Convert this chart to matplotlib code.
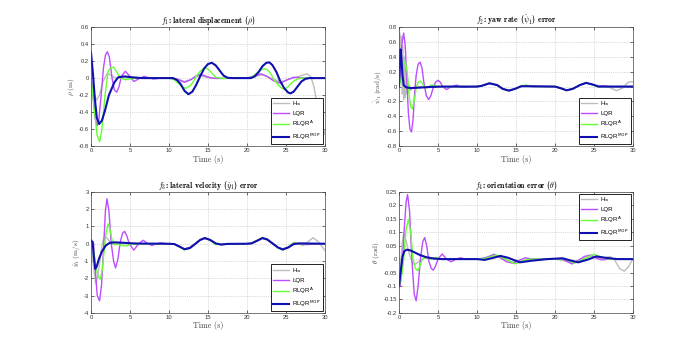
import matplotlib
matplotlib.use("Agg")
import matplotlib.pyplot as plt
from matplotlib.font_manager import FontProperties

plt.rcParams['mathtext.fontset'] = 'cm'

labels = [r'H$_\infty$', 'LQR', r'RLQR$^{\rm A}$', r'RLQR$^{\rm MOP}$']
colors = ['#bdbdbd', '#bb4dff', '#66ff33', '#1010b0']
widths = [1.0, 1.0, 1.0, 1.5]

# ---- f1: lateral displacement (rho) ----
p1_hinf_t = [0, 0.3, 0.7, 1.1, 1.5, 2.1, 2.6, 3.2, 4, 5, 10.5, 11.3, 12.0, 12.8, 13.4, 14.0, 14.8, 15.5, 20, 21.0, 22.0,
             22.8, 23.6, 24.5, 25.3, 26.2, 27.0, 27.7, 28.2, 28.6, 29.0, 29.5, 30]
p1_hinf_v = [0, -0.15, -0.26, -0.2, -0.05, 0.06, 0.03, 0.0, 0.005, 0, 0, -0.015, -0.04, -0.015, 0.015, 0.03, 0.01, 0, 0,
             0.015, 0.04, 0.01, -0.02, -0.04, -0.015, 0.005, 0.03, 0.05, 0.02, -0.1, -0.3, -0.5, -0.66]
p1_lqr_t = [0, 0.3, 0.55, 0.8, 1.0, 1.3, 1.6, 1.85, 2.1, 2.35, 2.7, 3.0, 3.3, 3.6, 3.9, 4.4, 4.9, 5.5, 6.1, 6.8, 7.4, 8,
            9, 10.5, 11.2, 12.0, 12.8, 13.4, 14.0, 14.8, 15.5, 16.2, 20, 20.8, 21.8, 22.6, 23.4, 24.3, 25.2, 26.0, 26.8, 30]
p1_lqr_v = [0, -0.25, -0.48, -0.56, -0.5, -0.2, 0.12, 0.27, 0.31, 0.25, 0.0, -0.14, -0.165, -0.1, 0.02, 0.08, 0.03,
            -0.04, -0.01, 0.02, 0.005, -0.01, 0, 0, -0.02, -0.05, -0.02, 0.02, 0.045, 0.02, 0, -0.005, 0, 0.02, 0.05,
            0.02, -0.03, -0.06, -0.02, 0.01, 0.005, 0]
p1_rlqra_t = [0, 0.4, 0.8, 1.1, 1.4, 1.8, 2.2, 2.5, 2.9, 3.3, 3.8, 4.4, 5, 6, 10, 10.7, 11.4, 11.8, 12.2, 12.6, 13.0,
              13.5, 14.0, 14.6, 15.1, 15.6, 16, 16.8, 18, 20, 20.6, 21.3, 21.8, 22.2, 22.6, 23.0, 23.5, 24.1, 24.5,
              24.8, 25.2, 25.6, 26.1, 26.8, 28, 30]
p1_rlqra_v = [0, -0.35, -0.68, -0.75, -0.6, -0.2, 0.08, 0.12, 0.13, 0.07, 0.0, -0.02, -0.01, 0, 0, -0.02, -0.08, -0.11,
              -0.12, -0.1, -0.06, 0.02, 0.08, 0.125, 0.1, 0.05, 0.01, -0.005, 0, 0, 0.01, 0.06, 0.095, 0.11, 0.1,
              0.06, -0.02, -0.09, -0.12, -0.13, -0.11, -0.07, -0.03, 0.0, 0.0, 0]
p1_mop_t = [0, 0.25, 0.5, 0.75, 1.05, 1.4, 1.8, 2.3, 3.0, 3.5, 4.3, 5.2, 6.5, 10.5, 11.0, 11.5, 12.0, 12.5, 13.0, 13.5,
            14.0, 14.5, 15.0, 15.5, 16.0, 16.5, 17.0, 17.5, 18, 20.5, 21.0, 21.5, 22.0, 22.5, 22.9, 23.3, 23.8, 24.3,
            24.8, 25.3, 25.6, 26.0, 26.5, 27.0, 27.5, 28, 30]
p1_mop_v = [0.3, 0.05, -0.25, -0.47, -0.54, -0.5, -0.38, -0.2, -0.05, 0.01, 0.02, 0.01, 0.0, 0, -0.02, -0.07, -0.15,
            -0.19, -0.16, -0.08, 0.02, 0.11, 0.165, 0.18, 0.15, 0.09, 0.03, 0.005, 0, 0, 0.02, 0.07, 0.14, 0.18, 0.185,
            0.15, 0.07, -0.04, -0.12, -0.17, -0.18, -0.16, -0.1, -0.04, -0.01, 0, 0]

# ---- f2: yaw rate error ----
p2_hinf_t = [0, 0.1, 0.2, 0.3, 0.4, 0.5, 0.6, 0.7, 0.8, 0.9, 1.0, 1.1, 1.2, 1.35, 1.5, 1.7, 2.0, 2.5, 3, 10, 10.6, 11.6,
             12.6, 13.3, 14.1, 14.9, 15.7, 16.5, 20, 20.7, 21.5, 22.3, 23.2, 24.0, 25.0, 26.0, 27.0, 27.9, 28.7, 29.2,
             29.6, 30]
p2_hinf_v = [0, 0.72, 0.1, 0.68, -0.1, 0.55, -0.18, 0.4, -0.15, 0.25, -0.1, 0.1, -0.08, 0.02, -0.05, -0.02, 0.0, 0.0,
             0, 0, 0.01, 0.04, 0.02, -0.03, -0.05, -0.03, 0.005, 0.005, 0, -0.02, -0.05, -0.03, 0.02, 0.05, 0.02, 0.01,
             -0.01, -0.055, -0.02, 0.04, 0.065, 0.065]
p2_lqr_t = [0, 0.2, 0.4, 0.6, 0.8, 1.0, 1.2, 1.4, 1.6, 1.8, 2.0, 2.2, 2.45, 2.7, 2.95, 3.2, 3.5, 3.8, 4.1, 4.4, 4.7,
            5.0, 5.3, 5.6, 6.1, 6.7, 7.4, 8.0, 8.6, 9.5, 10, 10.6, 11.6, 12.6, 13.3, 14.1, 14.9, 15.7, 16.3, 17, 20,
            20.7, 21.5, 22.3, 23.2, 24.0, 24.8, 25.6, 26.3, 27, 30]
p2_lqr_v = [0, 0.3, 0.6, 0.72, 0.55, 0.1, -0.35, -0.57, -0.61, -0.45, -0.1, 0.15, 0.3, 0.33, 0.25, 0.05, -0.12, -0.175,
            -0.12, -0.01, 0.06, 0.085, 0.06, 0.0, -0.04, 0.0, 0.02, -0.01, -0.01, 0, 0, 0.01, 0.04, 0.02, -0.03, -0.05,
            -0.03, 0.01, 0.015, 0, 0, -0.02, -0.05, -0.03, 0.02, 0.05, 0.025, 0.0, 0.01, 0, 0]
p2_rlqra_t = [0, 0.3, 0.55, 0.8, 1.05, 1.3, 1.5, 1.7, 1.95, 2.2, 2.45, 2.7, 3.0, 3.4, 3.7, 4.1, 4.5, 5, 6, 10, 10.6,
              11.6, 12.6, 13.3, 14.1, 14.9, 15.7, 16.4, 17.2, 20, 20.7, 21.5, 22.3, 23.2, 24.0, 24.8, 25.6, 26.3, 30]
p2_rlqra_v = [0, 0.12, 0.28, 0.34, 0.2, -0.12, -0.27, -0.3, -0.2, -0.02, 0.06, 0.075, 0.04, -0.02, -0.01, 0.02, 0.015,
              0, 0, 0, 0.01, 0.045, 0.02, -0.03, -0.055, -0.03, 0.01, 0.02, 0, 0, -0.02, -0.05, -0.03, 0.02, 0.05,
              0.025, -0.005, 0, 0]
p2_mop_t = [0, 0.1, 0.2, 0.3, 0.45, 0.6, 0.9, 1.5, 2.5, 4, 5.5, 10, 10.6, 11.6, 12.6, 13.3, 14.1, 14.9, 15.7, 16.5, 20,
            20.7, 21.5, 22.3, 23.2, 24.0, 24.8, 25.6, 26.5, 30]
p2_mop_v = [0.0, 0.3, 0.5, 0.4, 0.15, 0.02, -0.01, -0.02, -0.015, -0.005, 0, 0, 0.01, 0.045, 0.02, -0.03, -0.055, -0.03,
            0.005, 0.005, 0, -0.02, -0.05, -0.03, 0.02, 0.05, 0.03, 0.0, 0, 0]

# ---- f3: lateral velocity error ----
p3_hinf_t = [0, 0.3, 0.6, 0.9, 1.2, 1.5, 1.75, 2.1, 2.6, 3.2, 4, 10, 10.7, 11.3, 12.0, 12.7, 13.4, 14.0, 14.6, 15.3,
             16.0, 16.7, 20, 20.6, 21.3, 22.0, 22.6, 23.3, 24.0, 24.6, 25.3, 26.0, 26.5, 27.2, 27.8, 28.5, 29.2, 29.7, 30]
p3_hinf_v = [0, -1.2, -2.3, -1.8, -0.8, 0.1, 0.45, 0.3, 0.0, -0.05, 0, 0, -0.03, -0.16, -0.3, -0.22, 0.0, 0.2, 0.3, 0.2,
             0.0, -0.03, 0, 0.03, 0.18, 0.3, 0.22, 0.0, -0.22, -0.3, -0.18, 0.02, 0.0, -0.1, 0.1, 0.35, 0.1, -0.2, -0.38]
p3_lqr_t = [0, 0.3, 0.55, 0.8, 1.1, 1.35, 1.6, 1.85, 2.05, 2.3, 2.6, 2.9, 3.15, 3.45, 3.75, 4.05, 4.3, 4.6, 4.9, 5.5,
            6.1, 6.7, 7.3, 7.8, 8.4, 9.0, 9.6, 10.5, 11.3, 12.0, 12.7, 13.4, 14.0, 14.6, 15.3, 16.0, 16.7, 17.5, 20,
            20.6, 21.3, 22.0, 22.6, 23.3, 24.0, 24.6, 25.3, 26.0, 26.7, 27.5, 30]
p3_lqr_v = [0, 0.1, -1.5, -3.0, -3.3, -2.4, -0.4, 1.9, 2.6, 1.9, 0.0, -1.0, -1.4, -0.9, 0.1, 0.6, 0.72, 0.45, 0.0,
            -0.37, 0.0, 0.2, 0.0, -0.1, 0.0, 0.05, 0, 0, -0.15, -0.3, -0.2, 0.0, 0.22, 0.32, 0.2, 0.0, -0.05, 0.0, 0,
            0.02, 0.17, 0.32, 0.25, 0.0, -0.22, -0.33, -0.2, 0.05, 0.0, -0.05, 0]
p3_rlqra_t = [0, 0.3, 0.6, 0.9, 1.2, 1.45, 1.7, 1.95, 2.2, 2.45, 2.7, 3.0, 3.4, 3.9, 4.5, 5.0, 6, 10, 10.7, 11.3, 12.0,
              12.7, 13.4, 14.0, 14.6, 15.3, 16.0, 16.7, 20, 20.6, 21.3, 22.0, 22.6, 23.3, 24.0, 24.6, 25.3, 26.0, 26.7, 30]
p3_rlqra_v = [0, -0.3, -1.2, -1.9, -2.05, -1.5, -0.3, 0.7, 1.15, 0.8, 0.2, -0.05, 0.0, -0.1, -0.13, -0.05, 0, 0, -0.03,
              -0.18, -0.35, -0.25, 0.0, 0.22, 0.35, 0.2, -0.05, -0.03, 0, 0.03, 0.2, 0.35, 0.25, 0.0, -0.25, -0.37,
              -0.2, 0.05, 0.0, 0]
p3_mop_t = [0, 0.2, 0.4, 0.55, 0.75, 1.0, 1.4, 1.9, 2.4, 3.0, 4, 5, 6, 10, 10.7, 11.3, 12.0, 12.7, 13.4, 14.0, 14.6,
            15.3, 16.0, 16.7, 17.5, 20, 20.6, 21.3, 22.0, 22.6, 23.3, 24.0, 24.6, 25.3, 26.0, 26.7, 30]
p3_mop_v = [0.2, 0.1, -0.9, -1.45, -1.3, -0.9, -0.45, -0.1, 0.05, 0.08, 0.06, 0.03, 0.01, 0, -0.02, -0.15, -0.32,
            -0.25, 0.0, 0.22, 0.33, 0.22, 0.02, -0.05, -0.01, 0, 0.02, 0.17, 0.33, 0.25, 0.02, -0.22, -0.33, -0.22,
            -0.02, 0.02, 0]

# ---- f4: orientation error (theta) ----
p4_hinf_t = [0, 0.2, 0.4, 0.6, 0.9, 1.3, 1.7, 2.0, 2.5, 3.3, 4.5, 10, 12.3, 14.7, 17, 20, 22.3, 24.7, 26.0, 27.1, 27.7,
             28.3, 28.9, 29.4, 30]
p4_hinf_v = [-0.1, -0.03, 0.06, 0.095, 0.07, 0.02, -0.012, -0.02, -0.01, 0.005, 0, 0, 0.012, -0.012, 0, 0, -0.012,
             0.012, 0.002, 0.01, -0.005, -0.035, -0.045, -0.03, 0.0]
p4_lqr_t = [0, 0.15, 0.4, 0.65, 0.9, 1.1, 1.35, 1.65, 1.95, 2.2, 2.45, 2.75, 3.05, 3.3, 3.55, 3.85, 4.15, 4.4, 4.7, 5.0,
            5.55, 6.1, 6.7, 7.3, 7.9, 8.5, 9.5, 10.5, 11.4, 12.2, 13.0, 13.8, 14.6, 15.4, 16.2, 17, 20, 20.8, 21.5,
            22.2, 23.0, 23.8, 24.6, 25.4, 26.1, 27, 30]
p4_lqr_v = [-0.09, -0.1, -0.03, 0.1, 0.21, 0.24, 0.18, 0.0, -0.13, -0.155, -0.1, 0.0, 0.065, 0.08, 0.05, -0.01,
            -0.035, -0.041, -0.025, 0.0, 0.019, 0.0, -0.01, 0.0, 0.005, 0, 0, 0, 0.008, 0.018, 0.005, -0.01, -0.015,
            -0.005, 0.005, 0, 0, 0.003, -0.008, -0.018, -0.005, 0.01, 0.015, 0.002, -0.003, 0, 0]
p4_rlqra_t = [0, 0.3, 0.6, 0.9, 1.2, 1.5, 1.8, 2.1, 2.4, 2.7, 3.0, 3.5, 4.0, 4.6, 5.5, 10, 11, 12.5, 13.7, 14.9, 16, 17,
              20, 21.2, 22.5, 23.7, 25, 26.2, 27, 30]
p4_rlqra_v = [-0.1, -0.07, 0.0, 0.11, 0.148, 0.1, 0.0, -0.035, -0.043, -0.025, 0.0, 0.008, 0.0, 0.006, 0, 0, 0.002,
              0.015, 0.0, -0.018, -0.005, 0, 0, 0.002, -0.015, 0.0, 0.018, 0.005, 0, 0]
p4_mop_t = [0, 0.2, 0.45, 0.7, 1.0, 1.4, 2.0, 2.7, 3.5, 4.5, 5.5, 7, 10, 11, 12, 13, 14, 15.5, 17, 19, 21, 22, 23, 24.2,
            25.3, 26.5, 28, 30]
p4_mop_v = [-0.1, -0.05, 0.01, 0.03, 0.035, 0.033, 0.025, 0.015, 0.007, 0.002, 0, 0, 0, -0.003, 0.004, 0.012, 0.005,
            -0.012, -0.006, 0, 0.003, -0.005, -0.012, -0.002, 0.01, 0.005, 0, 0]

panels = [
    dict(title=r'$f_1$: lateral displacement ($\rho$)', ylabel=r'$\rho\ \mathrm{(m)}$',
         ylim=(-0.8, 0.6), yticks=[-0.8, -0.6, -0.4, -0.2, 0, 0.2, 0.4, 0.6], loc='lower right',
         series=[(p1_hinf_t, p1_hinf_v), (p1_lqr_t, p1_lqr_v), (p1_rlqra_t, p1_rlqra_v), (p1_mop_t, p1_mop_v)]),
    dict(title=r'$f_2$: yaw rate ($\dot{\psi}_1$) error', ylabel=r'$\dot{\psi}_1\ \mathrm{(rad/s)}$',
         ylim=(-0.8, 0.8), yticks=[-0.8, -0.6, -0.4, -0.2, 0, 0.2, 0.4, 0.6, 0.8], loc='lower right',
         series=[(p2_hinf_t, p2_hinf_v), (p2_lqr_t, p2_lqr_v), (p2_rlqra_t, p2_rlqra_v), (p2_mop_t, p2_mop_v)]),
    dict(title=r'$f_3$: lateral velocity ($\dot{y}_1$) error', ylabel=r'$\dot{y}_1\ \mathrm{(m/s)}$',
         ylim=(-4, 3), yticks=[-4, -3, -2, -1, 0, 1, 2, 3], loc='lower right',
         series=[(p3_hinf_t, p3_hinf_v), (p3_lqr_t, p3_lqr_v), (p3_rlqra_t, p3_rlqra_v), (p3_mop_t, p3_mop_v)]),
    dict(title=r'$f_4$: orientation error ($\theta$)', ylabel=r'$\theta\ \mathrm{(rad)}$',
         ylim=(-0.2, 0.25), yticks=[-0.2, -0.15, -0.1, -0.05, 0, 0.05, 0.1, 0.15, 0.2, 0.25], loc='upper right',
         series=[(p4_hinf_t, p4_hinf_v), (p4_lqr_t, p4_lqr_v), (p4_rlqra_t, p4_rlqra_v), (p4_mop_t, p4_mop_v)]),
]

rects = [[0.130, 0.585, 0.334, 0.338], [0.570, 0.585, 0.334, 0.338],
         [0.130, 0.111, 0.334, 0.344], [0.570, 0.111, 0.334, 0.344]]

fig = plt.figure(figsize=(7, 3.52), dpi=100)
leg_font = FontProperties(family='Liberation Sans', size=4.4, math_fontfamily='dejavusans')

for rect, p in zip(rects, panels):
    ax = fig.add_axes(rect)
    for (t, v), lab, c, lw in zip(p['series'], labels, colors, widths):
        ax.plot(t, v, color=c, lw=lw, label=lab)
    ax.set_xlim(0, 30)
    ax.set_ylim(*p['ylim'])
    ax.set_xticks([0, 5, 10, 15, 20, 25, 30])
    ax.set_yticks(p['yticks'])
    ax.set_yticklabels(['%g' % y for y in p['yticks']])
    ax.grid(True, linestyle=':', color='#b8b8b8', lw=0.5)
    ax.tick_params(direction='in', length=2, width=0.4, labelsize=4.2, pad=1.5, top=True, right=True,
                   labelcolor='#333333')
    for lbl in ax.get_xticklabels() + ax.get_yticklabels():
        lbl.set_fontfamily('Liberation Sans')
    for s in ax.spines.values():
        s.set_linewidth(0.5)
        s.set_color('#444444')
    ax.set_title(p['title'], fontsize=5.6, fontfamily='cmb10', pad=3)
    ax.set_xlabel(r'Time (s)', fontsize=5.8, fontfamily='cmr10', labelpad=1, color='#444444')
    ax.set_ylabel(p['ylabel'], fontsize=5.2, labelpad=1, color='#444444')
    leg = ax.legend(loc=p['loc'], prop=leg_font, fancybox=False, edgecolor='#222222', framealpha=1,
                    handlelength=2.6, handletextpad=0.5, borderaxespad=0.3, labelspacing=0.45, borderpad=0.35)
    leg.get_frame().set_linewidth(0.7)

fig.savefig('out.png', dpi=100)
